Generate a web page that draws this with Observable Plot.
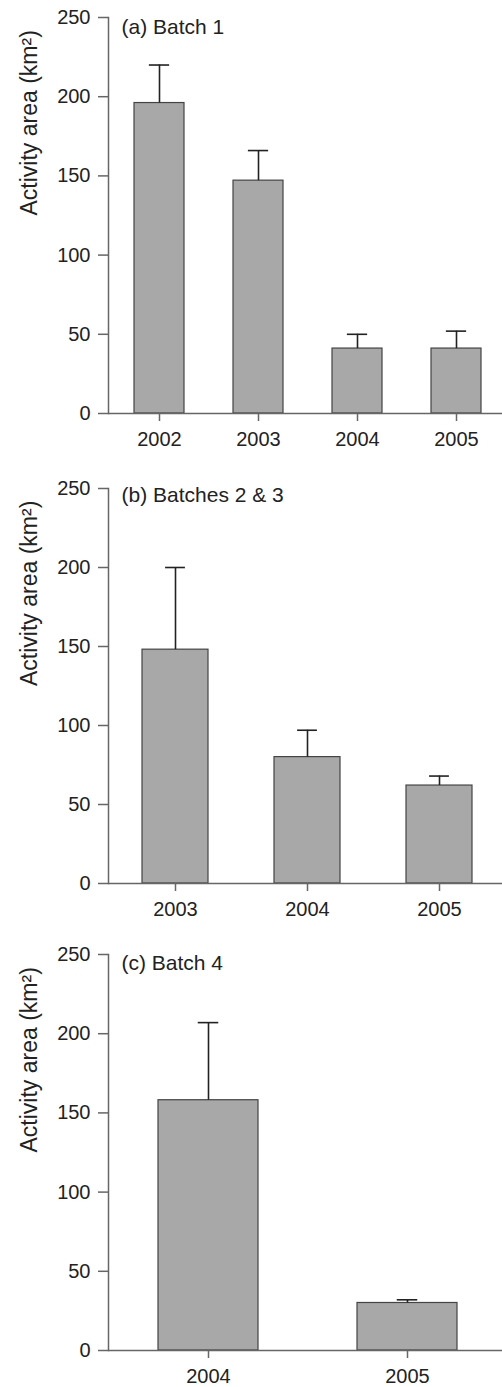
<!DOCTYPE html>
<html><head><meta charset="utf-8">
<script src="https://cdn.jsdelivr.net/npm/d3@7"></script>
<script src="https://cdn.jsdelivr.net/npm/@observablehq/plot@0.6"></script>
<style>body{margin:0;background:#fff} svg{display:block}</style>
</head><body><div id="chart"></div>
<script>
const yTicks = [0, 50, 100, 150, 200, 250];
const yLabel = "Activity area (km²)";

const titleA = "(a) Batch 1";
const yearsA = ["2002", "2003", "2004", "2005"];
const meanA = [196, 147, 41, 41];
const upperA = [220, 166, 50, 52];

const titleB = "(b) Batches 2 & 3";
const yearsB = ["2003", "2004", "2005"];
const meanB = [148, 80, 62];
const upperB = [200, 97, 68];

const titleC = "(c) Batch 4";
const yearsC = ["2004", "2005"];
const meanC = [158, 30];
const upperC = [207, 32];

function panel(title, years, mean, upper, layout) {
  const data = years.map((y, i) => ({year: y, mean: mean[i], upper: upper[i]}));
  const bw = (layout.r1 - layout.r0) * 0.5 / years.length;
  const inset = (bw - 20) / 2;
  return Plot.plot({
    width: 502,
    height: layout.height,
    marginTop: layout.mt,
    marginBottom: layout.mb,
    marginLeft: 108,
    marginRight: 0,
    style: {fontFamily: "'Liberation Sans', Arial, sans-serif", fontSize: "20px", color: "#222", background: "#fff"},
    x: {type: "band", domain: years, range: [layout.r0, layout.r1], paddingInner: 0.5, paddingOuter: 0.25, axis: null},
    y: {domain: [0, 250], axis: null},
    marks: [
      Plot.barY(data, {x: "year", y: "mean", fill: "#a8a8a8", stroke: "#444", strokeWidth: 1.2}),
      Plot.ruleX(data, {x: "year", y1: "mean", y2: "upper", stroke: "#222", strokeWidth: 1.6}),
      Plot.tickY(data, {x: "year", y: "upper", stroke: "#222", strokeWidth: 1.6, insetLeft: inset, insetRight: inset}),
      Plot.ruleY([0], {stroke: "#666", strokeWidth: 1.5}),
      Plot.frame({anchor: "left", stroke: "#666", strokeWidth: 1.5}),
      Plot.axisY({ticks: yTicks, tickSize: 10, tickPadding: 8, stroke: "#666", strokeWidth: 1.5, fill: "#222", label: null, fontSize: 20}),
      Plot.axisX({tickSize: 8, tickPadding: 10, stroke: "#666", strokeWidth: 1.5, fill: "#222", label: null, fontSize: 20}),
      Plot.text([yLabel], {text: d => d, frameAnchor: "left", rotate: -90, dx: -79, fontSize: 23, fill: "#222"}),
      Plot.text([title], {text: d => d, frameAnchor: "top-left", dx: 13, dy: layout.tdy, textAnchor: "start", lineAnchor: "middle", fontSize: 21, fill: "#222"})
    ]
  });
}

const root = document.getElementById("chart");
root.appendChild(panel(titleA, yearsA, meanA, upperA, {height: 460, mt: 17, mb: 47, r0: 108, r1: 506, tdy: 10}));
root.appendChild(panel(titleB, yearsB, meanB, upperB, {height: 470, mt: 28, mb: 47, r0: 108.5, r1: 505.5, tdy: 7}));
root.appendChild(panel(titleC, yearsC, meanC, upperC, {height: 457, mt: 24, mb: 37, r0: 108.5, r1: 506.5, tdy: 9}));
</script>
</body></html>
